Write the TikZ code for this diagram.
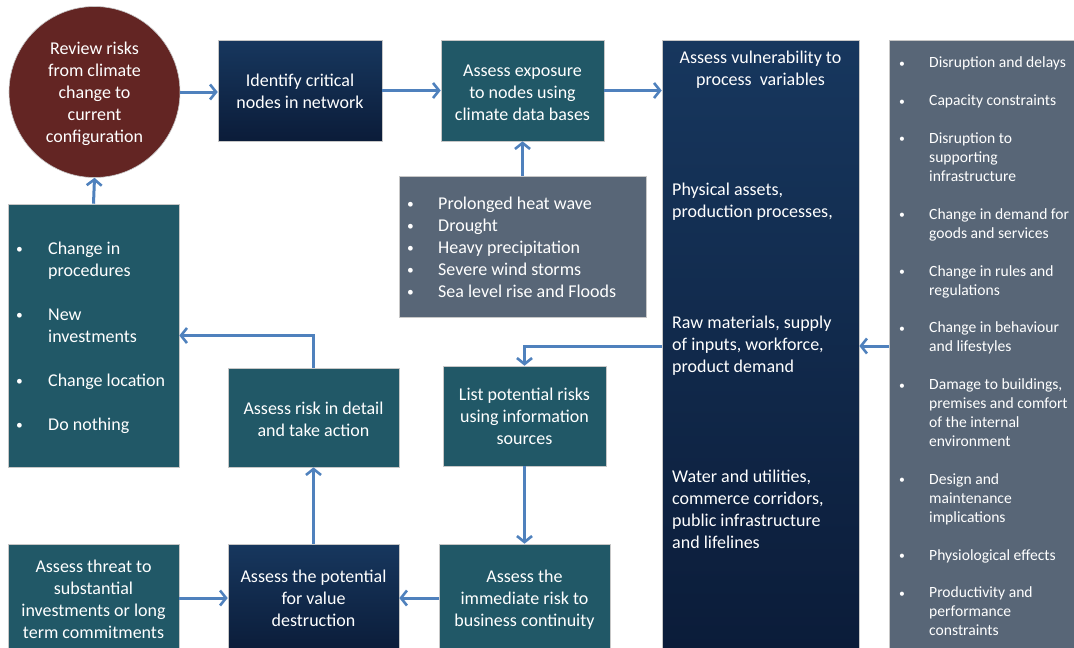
\documentclass[tikz,border=0pt]{standalone}
\usepackage{fontspec}
\usepackage{graphicx}
\setmainfont{Carlito}
\usetikzlibrary{arrows.meta}

\definecolor{boxteal}{HTML}{215867}
\definecolor{slate}{HTML}{586677}
\definecolor{circred}{HTML}{632523}
\definecolor{navytop}{HTML}{17375E}
\definecolor{navybot}{HTML}{0B1C39}
\definecolor{arrowblue}{HTML}{4F81BD}

% centred and left-aligned line blocks with fixed line pitch,
% set slightly low so the glyphs sit optically centred
\newcommand{\clines}[2][0pt]{\raisebox{\dimexpr-2pt-#1\relax}[\height][\depth]{\begin{tabular}{@{}c@{}}#2\end{tabular}}}
\newcommand{\llines}[1]{\raisebox{-2pt}[\height][\depth]{\begin{tabular}{@{}l@{}}#1\end{tabular}}}
\newcommand{\bul}{\raisebox{0.6pt}{\scalebox{0.75}{\textbullet}}}

\tikzset{
  box/.style={rectangle, draw=black!22, line width=0.6pt, text=white,
    inner sep=0pt, font=\fontsize{18}{22}\selectfont},
  tealbox/.style={box, fill=boxteal},
  navybox/.style={box, top color=navytop, bottom color=navybot},
  slatebox/.style={box, fill=slate},
  txt/.style={text=white, inner sep=0pt, font=\fontsize{18}{22}\selectfont},
  smalltxt/.style={text=white, inner sep=0pt, font=\fontsize{15.6}{18.93}\selectfont},
  flow/.style={draw=arrowblue, line width=3pt,
    -{Straight Barb[length=6pt, width=15pt, line width=2.6pt]}},
}

\begin{document}
\begin{tikzpicture}[x=1pt,y=-1pt]
\useasboundingbox (0,0) rectangle (1074,648);

% top row
\node[circle, fill=circred, draw=black!22, line width=0.6pt, text=white,
  inner sep=0pt, minimum size=171pt, font=\fontsize{18}{22}\selectfont]
  (review) at (94.5,92) {\clines{Review risks\\from climate\\change to\\current\\configuration}};
\node[navybox, minimum width=164pt, minimum height=101pt] (ident) at (300,90.5)
  {\clines[1pt]{Identify critical\\nodes in network}};
\node[tealbox, minimum width=163pt, minimum height=101pt] (expo) at (522.5,90.5)
  {\clines[2pt]{Assess exposure\\to nodes using\\climate data bases}};

% climate hazards
\node[slatebox, minimum width=247pt, minimum height=141pt] (haz) at (522.5,246.5) {};
\node[txt, anchor=west] (hazlist) at (407,249)
  {\begin{tabular}{@{}p{31pt}@{}l@{}}
   \bul & Prolonged heat wave\\
   \bul & Drought\\
   \bul & Heavy precipitation\\
   \bul & Severe wind storms\\
   \bul & Sea level rise and Floods
   \end{tabular}};

% vulnerability column
\node[navybox, minimum width=197pt, minimum height=610pt] (vuln) at (760.5,345) {};
\node[txt] (vhead) at (760.5,68) {\clines{Assess vulnerability to\\process\ \ variables}};
\node[txt, anchor=west] (vphys) at (672,200.5) {\llines{Physical assets,\\production processes,}};
\node[txt, anchor=west] (vraw) at (672,344) {\llines{Raw materials, supply\\of inputs, workforce,\\product demand}};
\node[txt, anchor=west] (vwater) at (672,509) {\llines{Water and utilities,\\commerce corridors,\\public infrastructure\\and lifelines}};

% effects column
\node[slatebox, minimum width=186pt, minimum height=610pt] (effects) at (982,345) {};
\node[smalltxt, anchor=west] (efflist) at (899,348)
  {\begin{tabular}{@{}p{30pt}@{}l@{}}
   \bul & Disruption and delays\\ & \\
   \bul & Capacity constraints\\ & \\
   \bul & Disruption to\\ & supporting\\ & infrastructure\\ & \\
   \bul & Change in demand for\\ & goods and services\\ & \\
   \bul & Change in rules and\\ & regulations\\ & \\
   \bul & Change in behaviour\\ & and lifestyles\\ & \\
   \bul & Damage to buildings,\\ & premises and comfort\\ & of the internal\\ & environment\\ & \\
   \bul & Design and\\ & maintenance\\ & implications\\ & \\
   \bul & Physiological effects\\ & \\
   \bul & Productivity and\\ & performance\\ & constraints
   \end{tabular}};

% actions
\node[tealbox, minimum width=171pt, minimum height=263pt] (actions) at (93.5,335.5) {};
\node[txt, anchor=west] (actlist) at (16,338)
  {\begin{tabular}{@{}p{32pt}@{}l@{}}
   \bul & Change in\\ & procedures\\ & \\
   \bul & New\\ & investments\\ & \\
   \bul & Change location\\ & \\
   \bul & Do nothing
   \end{tabular}};

% middle and bottom rows
\node[tealbox, minimum width=171pt, minimum height=99pt] (detail) at (313.5,417.5)
  {\clines[2pt]{Assess risk in detail\\and take action}};
\node[tealbox, minimum width=163pt, minimum height=100pt] (listr) at (524.5,416)
  {\clines{List potential risks\\using information\\sources}};
\node[tealbox, minimum width=171pt, minimum height=108pt] (threat) at (93.5,598)
  {\clines[1pt]{Assess threat to\\substantial\\investments or long\\term commitments}};
\node[navybox, minimum width=171pt, minimum height=108pt] (pot) at (313.5,598)
  {\clines{Assess the potential\\for value\\destruction}};
\node[tealbox, minimum width=171pt, minimum height=108pt] (immed) at (524.5,598)
  {\clines{Assess the\\immediate risk to\\business continuity}};

% connectors
\coordinate (side) at (0,346);
\draw[flow] (review.east) -- (review.east -| ident.west);
\draw[flow] (ident.east) -- (expo.west);
\draw[flow] (expo.east) -- (expo.east -| vuln.west);
\draw[flow] (haz.north) -- (expo.south);
\draw[flow] (effects.west |- side) -- (vuln.east |- side);
\draw[flow] (vuln.west |- side) -| (listr.north);
\draw[flow] (listr.south) -- (immed.north);
\draw[flow] (immed.west) -- (pot.east);
\draw[flow] (threat.east) -- (pot.west);
\draw[flow] (pot.north) -- (detail.south);
\draw[flow] (detail.north) |- (actions.east);
\draw[flow] (actions.north) -- (review.south);
\end{tikzpicture}
\end{document}
